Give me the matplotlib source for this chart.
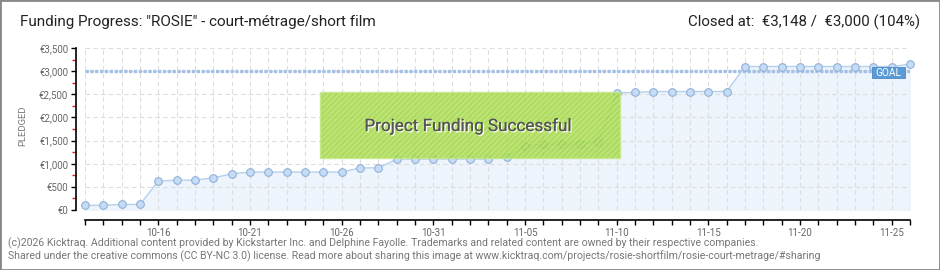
import matplotlib.pyplot as plt
import matplotlib.patheffects as pe
from matplotlib.patches import Rectangle

# daily pledged totals, 10-12 .. 11-26
dates = ['10-12', '10-13', '10-14', '10-15', '10-16', '10-17', '10-18', '10-19', '10-20',
         '10-21', '10-22', '10-23', '10-24', '10-25', '10-26', '10-27', '10-28', '10-29',
         '10-30', '10-31', '11-01', '11-02', '11-03', '11-04', '11-05', '11-06', '11-07',
         '11-08', '11-09', '11-10', '11-11', '11-12', '11-13', '11-14', '11-15', '11-16',
         '11-17', '11-18', '11-19', '11-20', '11-21', '11-22', '11-23', '11-24', '11-25',
         '11-26']
pledged = [100, 100, 120, 120, 625, 645, 645, 695, 780,
           820, 820, 820, 820, 820, 820, 910, 910, 1100,
           1100, 1100, 1100, 1100, 1100, 1145, 1390, 1425, 1425,
           1425, 1475, 2530, 2540, 2560, 2560, 2560, 2560, 2560,
           3100, 3100, 3100, 3100, 3100, 3100, 3100, 3100, 3100,
           3148]
goal = 3000
labeled = ['10-16', '10-21', '10-26', '10-31', '11-05', '11-10', '11-15', '11-20', '11-25']
yticks = [0, 500, 1000, 1500, 2000, 2500, 3000, 3500]
ylabels = ['€0', '€500', '€1,000', '€1,500', '€2,000', '€2,500', '€3,000', '€3,500']

W, H = 940, 270
fig = plt.figure(figsize=(W / 100, H / 100), dpi=100)
plt.rcParams['font.family'] = ['Roboto', 'DejaVu Sans']

def fx(px):
    return px / W

def fy(py):
    return 1 - py / H

x = list(range(len(dates)))
ax = fig.add_axes([fx(85), fy(210), fx(910) - fx(85), fy(48) - fy(210)])
ax.set_xlim(0, len(dates) - 1)
ax.set_ylim(0, 3500)

ax.fill_between(x, pledged, 0, color='#edf4fc', zorder=1)
ax.plot(x, pledged, color='#b5d0ef', lw=1, zorder=3)
ax.plot(x, pledged, 'o', ms=5.5, mfc='#c6dcf5', mec='#8fb0d8', mew=0.8,
        zorder=4, clip_on=False)
ax.axhline(goal, color='#a3c0e6', lw=2.4, dashes=(1, 0.45), zorder=2)

ax.set_axisbelow('line')
ax.grid(True, color='#dddddd', ls=(0, (4, 3)), lw=0.8)
ax.set_xticks(x)
ax.set_xticklabels([d if d in labeled else '' for d in dates])
ax.set_yticks(yticks)
ax.set_yticklabels(ylabels)
ax.set_yticks([250, 750, 1250, 1750, 2250, 2750, 3250], minor=True)

for s in ['top', 'right']:
    ax.spines[s].set_visible(False)
ax.spines['left'].set_position(('outward', 6.5))
ax.spines['bottom'].set_position(('outward', 7.2))
ax.spines['left'].set_linewidth(1.2)
ax.spines['bottom'].set_linewidth(1.2)
ax.tick_params(axis='y', which='major', length=3.5, width=1, color='black',
               labelsize=7, labelcolor='#666666', pad=2)
ax.tick_params(axis='y', which='minor', length=3, width=1, color='#dd2222')
ax.tick_params(axis='x', length=3.5, width=1, color='black',
               labelsize=7, labelcolor='#666666', pad=2)
fig.text(fx(23), fy(126), 'PLEDGED', rotation=90, fontsize=6.8, color='#777777',
         ha='center', va='center')

# goal label
fig.patches.append(Rectangle((fx(872), fy(78)), fx(905) - fx(872), fy(67) - fy(78),
                             transform=fig.transFigure, fc='#5b9bd5', ec='#4a88c8',
                             lw=0.6, zorder=5))
fig.text(fx(888.5), fy(72.5), 'GOAL', color='white', fontsize=7.3, ha='center',
         va='center', zorder=6)

# success banner (see-through, points show under it)
plt.rcParams['hatch.color'] = '#98cf36'
fig.patches.append(Rectangle((fx(320), fy(158)), fx(620) - fx(320), fy(92) - fy(158),
                             transform=fig.transFigure, fc='#9fd63c', ec='#c5e88a',
                             lw=1, hatch='//////', alpha=0.82, zorder=5))
fig.text(fx(468), fy(126), 'Project Funding Successful', color='#555555', fontsize=12.3,
         ha='center', va='center', zorder=6,
         path_effects=[pe.withSimplePatchShadow(offset=(1, -1), shadow_rgbFace='white', alpha=0.9),
                       pe.Normal()])

# titles
fig.text(fx(20), fy(22), 'Funding Progress: "ROSIE" - court-métrage/short film',
         fontsize=11, color='#222222', ha='left', va='center')
fig.text(fx(920), fy(22), 'Closed at:  €3,148 /  €3,000 (104%)',
         fontsize=10.8, color='#222222', ha='right', va='center')

# footer
fig.text(fx(8), fy(243), '(c)2026 Kicktraq. Additional content provided by Kickstarter Inc. and '
         'Delphine Fayolle. Trademarks and related content are owned by their respective companies.',
         fontsize=7.6, color='#777777', ha='left', va='center')
fig.text(fx(8), fy(256), 'Shared under the creative commons (CC BY-NC 3.0) license. Read more about '
         'sharing this image at www.kicktraq.com/projects/rosie-shortfilm/rosie-court-metrage/#sharing',
         fontsize=7.6, color='#777777', ha='left', va='center')

# image border
fig.patches.append(Rectangle((0, 0), 1, 1, transform=fig.transFigure, fill=False,
                             ec='#888888', lw=2, zorder=10))

fig.savefig('out.png', dpi=100)
